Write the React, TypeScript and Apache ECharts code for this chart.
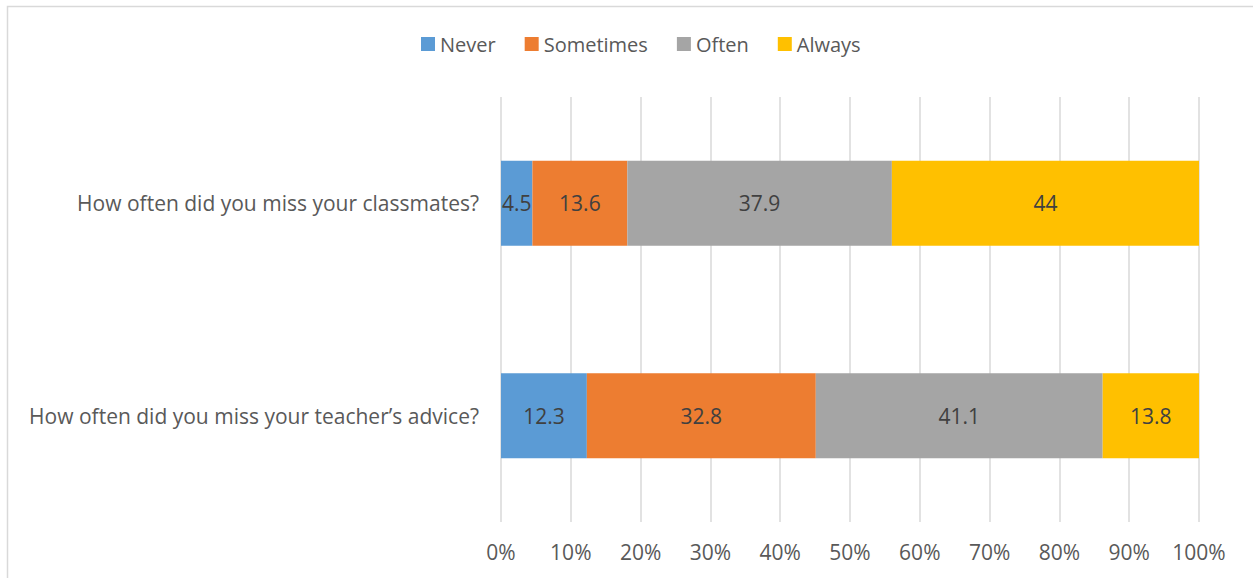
import React, { useEffect, useRef } from "react";
import * as echarts from "echarts";

const categories = [
  "How often did you miss your teacher’s advice?",
  "How often did you miss your classmates?",
];
const seriesNames = ["Never", "Sometimes", "Often", "Always"];
const never = [12.3, 4.5];
const sometimes = [32.8, 13.6];
const often = [41.1, 37.9];
const always = [13.8, 44];
const colors = ["#5b9bd5", "#ed7d31", "#a5a5a5", "#ffc000"];
const xTicks = [0, 10, 20, 30, 40, 50, 60, 70, 80, 90, 100];

const FONT = "'Open Sans', 'Noto Sans', sans-serif";

export default function App() {
  const ref = useRef<HTMLDivElement>(null);
  useEffect(() => {
    if (!ref.current) return;
    const chart = echarts.init(ref.current, undefined, { renderer: "svg" });
    const values = [never, sometimes, often, always];
    chart.setOption({
      animation: false,
      backgroundColor: "#ffffff",
      textStyle: { fontFamily: FONT },
      graphic: [
        {
          type: "rect",
          shape: { x: 7.5, y: 6.5, width: 1300, height: 700 },
          style: { fill: "none", stroke: "#d9d9d9", lineWidth: 1.5 },
          silent: true,
        },
      ],
      legend: {
        top: 29,
        left: 416,
        itemWidth: 14,
        itemHeight: 14,
        itemGap: 29,
        icon: "rect",
        textStyle: { color: "#595959", fontSize: 20, fontFamily: FONT },
        data: seriesNames,
      },
      grid: { left: 501, right: 1253 - 1199, top: 97, bottom: 578 - 522, containLabel: false },
      xAxis: {
        type: "value",
        min: 0,
        max: 100,
        interval: 10,
        axisLine: { show: false },
        axisTick: { show: false },
        splitLine: { lineStyle: { color: "#d9d9d9", width: 1.5 } },
        axisLabel: {
          color: "#595959",
          fontSize: 21,
          fontFamily: FONT,
          margin: 19,
          formatter: (v: number) => (xTicks.includes(v) ? v + "%" : ""),
        },
      },
      yAxis: {
        type: "category",
        data: categories,
        axisLine: { show: false },
        axisTick: { show: false },
        axisLabel: { color: "#595959", fontSize: 21, fontFamily: FONT, margin: 22 },
      },
      series: seriesNames.map((name, i) => ({
        name,
        type: "bar",
        stack: "total",
        barWidth: 85,
        itemStyle: { color: colors[i] },
        label: {
          show: true,
          position: "inside",
          color: "#404040",
          fontSize: 21,
          fontFamily: FONT,
        },
        data: values[i],
      })),
    });
    return () => chart.dispose();
  }, []);
  return <div ref={ref} style={{ width: 1253, height: 578, position: "absolute", left: 0, top: 0 }} />;
}
